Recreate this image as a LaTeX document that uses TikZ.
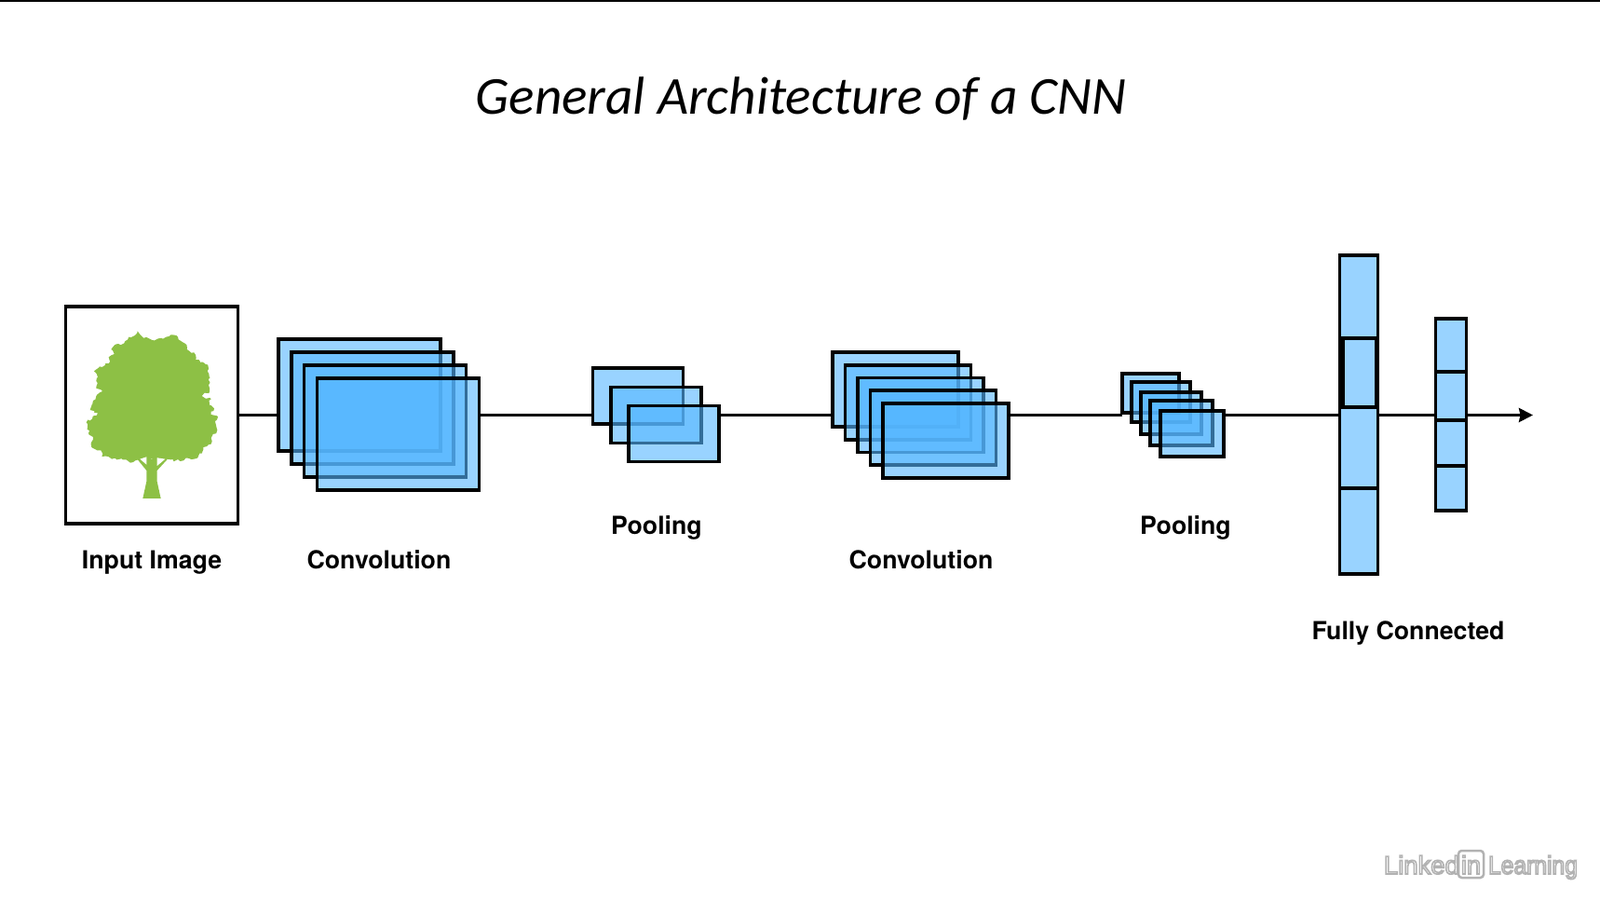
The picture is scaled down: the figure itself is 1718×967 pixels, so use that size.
\documentclass[tikz,border=0pt]{standalone}
\usepackage{fontspec}
\usepackage{tikz}
\usetikzlibrary{positioning,arrows.meta,decorations.pathmorphing}
\setmainfont{TeX Gyre Heros}
\newfontfamily\titlefont{Carlito}
\newfontfamily\markfont{Liberation Sans}
\newfontfamily\marknarrow[FakeStretch=0.9]{Liberation Sans}
\definecolor{sheetblue}{RGB}{85,182,255}
\definecolor{treegreen}{RGB}{141,192,69}
\definecolor{markgray}{RGB}{178,178,178}
\def\px{0.02cm}
\newcommand{\halo}[1]{\special{pdf:code q 2 Tr 0.9 w 0.7 G}#1\special{pdf:code Q}}

\begin{document}
\begin{tikzpicture}[%
    x=\px, y=-\px,
    >={Stealth[length=15*\px, width=15*\px, inset=1.5*\px]},
    every node/.style={inner sep=0pt, outer sep=0pt},
    sheet/.style={%
      rectangle,
      draw,
      line width=3.5*\px,
      fill=sheetblue,
      fill opacity=0.6
    },
    convA/.style={sheet, on grid, minimum width=174*\px, minimum height=120*\px},
    convB/.style={sheet, on grid, minimum width=135*\px, minimum height=80*\px},
    poolA/.style={sheet, on grid, minimum width=97*\px, minimum height=60*\px},
    link/.style={draw, line width=3.4*\px},
    caption/.style={anchor=base, font=\fontsize{15.2}{17}\selectfont\bfseries},
    wmark/.style={anchor=base west, text=white, font=\fontsize{15.6}{16}\selectfont\markfont}
  ]
    \useasboundingbox (0,0) rectangle (1718,967);
    \fill (0,0) rectangle (1718,1.5);

    \node[anchor=base, font=\fontsize{32.6}{36}\selectfont\titlefont\itshape] (title) at (860,122) {General Architecture of a CNN};

    % input image
    \node[rectangle, draw, line width=3.8*\px, minimum width=185*\px, minimum height=233*\px] (input) at (163,445.5) {};
    \begin{scope}[shift={(70,330)}, x=0.02cm/3, y=-0.02cm/3]
      \fill[treegreen, decorate, decoration={random steps, segment length=1.6pt, amplitude=0.9pt}]
        (233,76) -- (246,92) -- (262,96) -- (280,105) -- (300,100) -- (325,95) -- (340,88) -- (358,90)
        -- (365,103) -- (385,115) -- (392,135) -- (415,145) -- (420,168) -- (440,175) -- (460,185)
        -- (458,205) -- (467,225) -- (462,250) -- (465,270) -- (440,285) -- (470,295) -- (462,315)
        -- (480,325) -- (470,345) -- (492,352) -- (485,375) -- (490,395) -- (470,420) -- (470,440)
        -- (445,450) -- (440,470) -- (420,487) -- (395,485) -- (370,495) -- (340,490) -- (300,490)
        -- (262,490) -- (235,490) -- (210,500) -- (185,490) -- (160,485) -- (118,480) -- (115,460)
        -- (85,450) -- (90,425) -- (75,405) -- (68,370) -- (105,340) -- (80,330) -- (90,300)
        -- (100,285) -- (120,270) -- (100,255) -- (105,225) -- (93,205) -- (110,190) -- (140,180)
        -- (140,160) -- (158,150) -- (148,135) -- (165,118) -- (190,115) -- (205,95) -- (225,90) -- cycle;
      \fill[treegreen] (232,488) -- (262,525) -- (262,560) -- (250,615) -- (308,615) -- (296,560) -- (296,525) -- (330,488) -- cycle;
      \fill[white] (241,488) -- (262,481) -- (262,506) -- cycle;
      \fill[white] (296,484) -- (322,488) -- (296,510) -- cycle;
    \end{scope}

    % first convolution
    \node[convA] (conv1a) at (386,424) {};
    \node[convA] (conv1b) [below right=0.28cm and 0.276cm of conv1a] {};
    \node[convA] (conv1c) [below right=0.28cm and 0.276cm of conv1b] {};
    \node[convA] (conv1d) [below right=0.28cm and 0.276cm of conv1c] {};

    % first pooling
    \node[poolA] (pool1a) at (685,425) {};
    \node[poolA] (pool1b) [below right=0.405cm and 0.385cm of pool1a] {};
    \node[poolA] (pool1c) [below right=0.405cm and 0.385cm of pool1b] {};

    % second convolution
    \node[convB] (conv2a) at (961.5,418) {};
    \node[convB] (conv2b) [below right=0.275cm and 0.27cm of conv2a] {};
    \node[convB] (conv2c) [below right=0.275cm and 0.27cm of conv2b] {};
    \node[convB] (conv2d) [below right=0.275cm and 0.27cm of conv2c] {};
    \node[convB] (conv2e) [below right=0.275cm and 0.27cm of conv2d] {};

    % second pooling
    \node[sheet, minimum width=61*\px, minimum height=42*\px] (pool2a) at (1235.5,422) {};
    \node[sheet, minimum width=63*\px, minimum height=43*\px] (pool2b) at (1246.5,431.5) {};
    \node[sheet, minimum width=65*\px, minimum height=45*\px] (pool2c) at (1257.5,443.5) {};
    \node[sheet, minimum width=67*\px, minimum height=48*\px] (pool2d) at (1268.5,454) {};
    \node[sheet, minimum width=68*\px, minimum height=49*\px] (pool2e) at (1280,465.5) {};

    % fully connected
    \node[sheet, minimum width=41*\px, minimum height=89*\px] (fc1a) at (1459,318.5) {};
    \node[sheet, minimum width=41*\px, minimum height=74*\px] (fc1b) at (1459,400) {};
    \node[draw, line width=3.5*\px, minimum width=36*\px, minimum height=74*\px] (fc1i) at (1459.75,400) {};
    \node[sheet, minimum width=41*\px, minimum height=87*\px] (fc1c) at (1459,480.5) {};
    \node[sheet, minimum width=41*\px, minimum height=92*\px] (fc1d) at (1459,570) {};

    \node[sheet, minimum width=33*\px, minimum height=57*\px] (fc2a) at (1558,370.5) {};
    \node[sheet, minimum width=33*\px, minimum height=52*\px] (fc2b) at (1558,425) {};
    \node[sheet, minimum width=33*\px, minimum height=49*\px] (fc2c) at (1558,475.5) {};
    \node[sheet, minimum width=33*\px, minimum height=48*\px] (fc2d) at (1558,524) {};

    \coordinate (tip) at (1646,445.5);

    \path[link] (input.east) -- (conv1a.west |- input.east);
    \path[link] (conv1d.east |- input.east) -- (pool1a.west |- input.east);
    \path[link] (pool1c.east |- input.east) -- (conv2a.west |- input.east);
    \path[link] (conv2e.east |- input.east) -- (pool2a.west |- input.east);
    \path[link] (pool2e.east |- input.east) -- (fc1c.west |- input.east);
    \path[link] (fc1c.east |- input.east) -- (fc2b.west |- input.east);
    \path[link, ->] (fc2b.east |- input.east) -- (tip);

    \node[caption] (lblinput) at (163,610) {Input Image};
    \node[caption] (lblconv1) at (407,610) {Convolution};
    \node[caption] (lblpool1) at (705,573) {Pooling};
    \node[caption] (lblconv2) at (989,610) {Convolution};
    \node[caption] (lblpool2) at (1273,573) {Pooling};
    \node[caption] (lblfull) at (1512,686) {Fully Connected};

    % watermark
    \node[wmark] (wmlinked) at (1486,938) {\halo{Linked}};
    \node[rectangle, draw=markgray, line width=2.5*\px, rounded corners=2pt, minimum width=27*\px, minimum height=29*\px] (wmbox) at (1579.5,927.5) {};
    \node[wmark, anchor=base] (wmin) at (wmbox.center |- wmlinked.base) {\halo{in}};
    \node[wmark] (wmlearn) at (1598,938) {\marknarrow\halo{Learning}};
\end{tikzpicture}
\end{document}
